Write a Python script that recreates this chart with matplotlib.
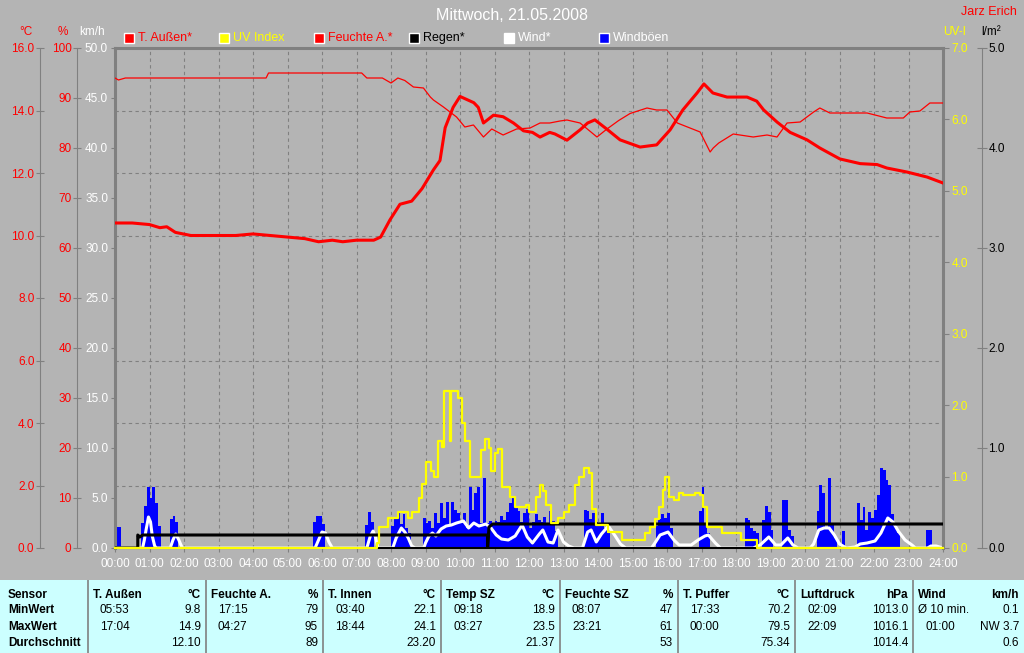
# Tagesgrafik Wetterstation - Mittwoch 21.05.2008
import numpy as np
import matplotlib
matplotlib.use('Agg')
import matplotlib.pyplot as plt
from matplotlib.patches import Rectangle
from matplotlib.ticker import MultipleLocator, FormatStrFormatter

plt.rcParams['font.family'] = ['Liberation Sans', 'DejaVu Sans']

# --- data (time in hours) ---
temp_h = [0.0, 0.5, 1.0, 1.3, 1.5, 1.75, 2.2, 3.0, 3.5, 4.0, 4.5, 5.0, 5.5, 5.9, 6.3, 6.6,
          7.0, 7.5, 7.7, 7.97, 8.26, 8.6, 8.9, 9.23, 9.42, 9.57, 9.8, 10.0, 10.2, 10.4,
          10.53, 10.68, 10.97, 11.25, 11.55, 11.84, 12.1, 12.32, 12.6, 12.75, 13.1, 13.48,
          13.7, 13.91, 14.26, 14.64, 15.22, 15.7, 16.09, 16.46, 16.87, 17.07, 17.33, 17.74,
          18.32, 18.6, 18.8, 19.19, 19.57, 20.06, 20.43, 21.01, 21.6, 22.09, 22.37, 22.96,
          23.54, 24.0]
temp_c = [10.4, 10.4, 10.35, 10.25, 10.28, 10.1, 10.0, 10.0, 10.0, 10.05, 10.0, 9.95, 9.9,
          9.8, 9.85, 9.8, 9.85, 9.85, 9.95, 10.5, 11.0, 11.1, 11.5, 12.1, 12.4, 13.45, 14.1,
          14.45, 14.35, 14.25, 14.1, 13.6, 13.85, 13.8, 13.6, 13.35, 13.3, 13.15, 13.3, 13.25,
          13.05, 13.38, 13.6, 13.7, 13.4, 13.06, 12.83, 12.9, 13.38, 14.02, 14.56, 14.85,
          14.56, 14.43, 14.43, 14.3, 14.02, 13.63, 13.3, 13.06, 12.8, 12.45, 12.3, 12.27,
          12.16, 12.03, 11.87, 11.68]

hum_h = [0.0, 0.1, 0.3, 4.38, 4.45, 7.15, 7.3, 7.75, 8.0, 8.2, 8.4, 8.65, 8.94, 9.14, 9.23,
         9.52, 9.71, 9.9, 10.14, 10.39, 10.68, 10.92, 11.25, 11.64, 12.03, 12.32, 12.6, 12.9,
         13.1, 13.48, 13.97, 14.26, 14.6, 14.93, 15.42, 15.7, 16.0, 16.3, 16.96, 17.25, 17.34,
         17.5, 17.92, 18.5, 18.9, 19.19, 19.48, 19.86, 20.25, 20.43, 20.72, 21.8, 22.37,
         22.85, 23.04, 23.33, 23.62, 24.0]
hum_pct = [94, 93.6, 94, 94, 95, 95, 94, 94, 93, 94, 93.5, 92.2, 92, 90.2, 89.6, 88.2, 87.2,
           86.2, 84.2, 84.6, 82.2, 83.8, 82.6, 83.8, 84, 85, 85, 85.4, 85.6, 85, 82.2, 83.8,
           85.5, 86.9, 88, 87.6, 87.6, 85, 83.2, 79.2, 80, 81, 82.8, 82.2, 82.6, 82.2, 85,
           85.2, 87.2, 88, 87, 87, 86, 86, 87.2, 87.4, 89, 89]

uv_h = [0.0, 7.59, 7.65, 7.9, 8.2, 8.5, 8.6, 8.8, 8.9, 9.02, 9.15, 9.25, 9.35, 9.48, 9.55,
        9.7, 9.74, 9.95, 10.05, 10.15, 10.28, 10.62, 10.72, 10.85, 10.9, 11.0, 11.1, 11.22,
        11.45, 11.6, 11.9, 12.0, 12.2, 12.32, 12.42, 12.5, 12.65, 12.85, 13.0, 13.17, 13.33,
        13.45, 13.6, 13.75, 13.82, 13.95, 14.3, 14.7, 15.35, 15.5, 15.65, 15.78, 15.87, 15.95,
        16.05, 16.2, 16.35, 16.45, 16.8, 16.95, 17.05, 17.15, 17.6, 18.15, 18.6, 24.0]
uv_idx = [0.0, 0.07, 0.3, 0.42, 0.5, 0.42, 0.5, 0.7, 0.9, 1.2, 1.08, 1.0, 1.5, 1.42, 2.2,
          1.5, 2.2, 2.1, 1.75, 1.5, 1.0, 1.37, 1.52, 1.4, 1.08, 1.33, 1.38, 0.86, 0.72, 0.58,
          0.6, 0.5, 0.72, 0.88, 0.8, 0.6, 0.35, 0.42, 0.5, 0.6, 0.88, 1.0, 1.12, 1.05, 0.55,
          0.32, 0.22, 0.11, 0.21, 0.3, 0.4, 0.58, 0.81, 1.0, 0.72, 0.67, 0.77, 0.74, 0.77,
          0.74, 0.58, 0.3, 0.21, 0.11, 0.0, 0.0]

rain_h = [0.0, 0.66, 0.66, 0.72, 0.8, 10.8, 10.8, 10.84, 10.95, 24.0]
rain_l = [0.0, 0.0, 0.13, 0.11, 0.13, 0.13, 0.0, 0.21, 0.24, 0.24]

wind_h = [0.0, 0.8, 0.85, 0.9, 0.97, 1.03, 1.08, 1.15, 1.2, 1.6, 1.68, 1.76, 1.85, 1.95,
          5.8, 5.9, 6.0, 6.1, 6.2, 6.3, 7.3, 7.4, 7.48, 7.55, 7.62, 8.05, 8.15, 8.3, 8.4, 8.5,
          8.6, 8.7, 8.95, 9.0, 9.1, 9.2, 9.3, 9.45, 9.6, 9.75, 9.9, 10.1, 10.25, 10.4, 10.55,
          10.75, 10.9, 11.05, 11.2, 11.4, 11.6, 11.8, 11.95, 12.1, 12.3, 12.4, 12.55, 12.7,
          12.84, 13.0, 13.15, 13.3, 13.55, 13.7, 13.8, 13.95, 14.1, 14.3, 14.5, 14.65, 14.8,
          15.55, 15.65, 15.8, 16.03, 16.2, 16.35, 16.7, 16.9, 17.1, 17.2, 17.4, 17.55, 18.5,
          18.7, 18.95, 19.15, 19.3, 19.5, 19.65, 19.8, 20.15, 20.25, 20.4, 20.55, 20.7, 20.85,
          21.0, 21.2, 21.45, 21.6, 21.8, 22.03, 22.2, 22.4, 22.55, 22.7, 22.9, 23.1, 23.2,
          23.55, 23.65, 23.8, 24.0]
wind_kmh = [0, 0, 0.8, 1.8, 3.1, 2.6, 1.2, 0.2, 0, 0, 0.8, 1.4, 0.8, 0,
            0, 0.8, 1.6, 1.5, 0.6, 0, 0, 1.2, 1.7, 1.1, 0, 0, 1.0, 2.0, 1.6, 1.0,
            0.2, 0, 0, 0.5, 1.2, 1.5, 1.2, 1.9, 2.2, 2.3, 2.5, 2.7, 2.0, 2.5, 2.2,
            2.4, 2.0, 1.3, 0.9, 0.8, 1.2, 2.3, 1.1, 0.5, 1.4, 1.8, 0.6, 0.5,
            1.8, 0.6, 0.2, 0, 0, 1.6, 1.8, 0.6, 1.4, 2.2, 1.2, 0.4, 0,
            0, 0.5, 1.3, 1.6, 0.8, 0.3, 0.3, 0.8, 1.2, 1.3, 0.5, 0, 0,
            0.3, 1.1, 0.3, 0.3, 1.0, 0.3, 0, 0, 0.4, 1.8, 2.0, 2.0, 1.3,
            0.4, 0, 0.1, 0.4, 0.5, 0.7, 1.5, 3.0, 2.6, 1.7, 0.8, 0.3, 0,
            0, 0.2, 0.2, 0]

# gusts in 5 minute bins (minute of day -> km/h)
gust_min = [0, 5,
            45, 50, 55, 60, 65, 70, 75,
            95, 100, 105,
            345, 350, 355, 360,
            435, 440, 445,
            480, 485, 490, 495, 500, 505, 510,
            535, 540, 545, 550, 555, 560, 565, 570, 575, 580, 585, 590, 595,
            600, 605, 610, 615, 620, 625, 630, 635, 640, 645, 650, 655,
            660, 665, 670, 675, 680, 685, 690, 695, 700, 705, 710, 715,
            720, 725, 730, 735, 740, 745, 750, 755, 760, 765,
            815, 820, 825, 830, 835,
            840, 845, 850, 855,
            940, 945, 950, 955,
            960, 965,
            1015, 1020, 1025, 1030,
            1095, 1100, 1105, 1110, 1115, 1125, 1130, 1135, 1140,
            1160, 1165, 1170, 1175,
            1220, 1225, 1230, 1235, 1240, 1245, 1250, 1265,
            1290, 1295, 1300, 1305, 1310, 1315, 1320, 1325, 1330, 1335, 1340, 1345, 1350, 1355, 1360,
            1410, 1415]
gust_kmh = [2.1, 2.1,
            2.5, 4.2, 6.1, 5.0, 6.1, 4.5, 2.2,
            2.9, 3.2, 2.6,
            2.6, 3.2, 3.2, 2.4,
            2.3, 3.6, 2.6,
            2.2, 3.0, 3.5, 2.4, 3.4, 2.0, 1.5,
            3.0, 2.5, 2.7, 2.0, 3.5, 2.5, 4.5, 3.0, 4.6, 2.2, 4.6, 3.8, 3.5,
            2.5, 3.5, 2.0, 6.1, 3.8, 5.5, 6.1, 2.5, 7.0, 2.5, 2.7, 2.5,
            2.7, 2.6, 3.2, 2.8, 3.6, 4.5, 5.1, 4.1, 3.7, 2.6, 3.5, 3.9,
            2.0, 2.6, 3.4, 2.8, 2.6, 3.1, 2.3, 3.7, 2.7, 1.7,
            3.8, 3.7, 2.9, 3.5, 2.6,
            2.5, 3.5, 2.0, 1.5,
            2.2, 2.9, 3.4, 3.0,
            3.5, 2.0,
            3.7, 6.1, 2.3, 1.5,
            3.0, 2.8, 2.0, 1.7, 1.5, 2.8, 4.2, 3.6, 1.8,
            4.8, 4.8, 1.8, 1.2,
            3.7, 6.3, 5.5, 2.0, 7.0, 2.3, 1.0, 1.7,
            4.5, 2.8, 4.1, 1.8, 3.6, 3.0, 3.8, 5.3, 8.0, 7.8, 6.8, 6.3, 3.4, 2.4, 1.5,
            1.8, 1.8]

legend_labels = ['T. Außen*', 'UV Index', 'Feuchte A.*', 'Regen*', 'Wind*', 'Windböen']
legend_fill = ['#ff0000', '#ffff00', '#ff0000', '#000000', '#ffffff', '#0000ff']
legend_text = ['#ff0000', '#ffff00', '#ff0000', '#000000', '#ffffff', '#ffffff']

# summary table
row_labels = ['Sensor', 'MinWert', 'MaxWert', 'Durchschnitt']
sensors = ['T. Außen', 'Feuchte A.', 'T. Innen', 'Temp SZ', 'Feuchte SZ', 'T. Puffer', 'Luftdruck', 'Wind']
units = ['°C', '%', '°C', '°C', '%', '°C', 'hPa', 'km/h']
min_time = ['05:53', '17:15', '03:40', '09:18', '08:07', '17:33', '02:09', 'Ø 10 min.']
min_val = ['9.8', '79', '22.1', '18.9', '47', '70.2', '1013.0', '0.1']
max_time = ['17:04', '04:27', '18:44', '03:27', '23:21', '00:00', '22:09', '01:00']
max_val = ['14.9', '95', '24.1', '23.5', '61', '79.5', '1016.1', 'NW 3.7']
avg_val = ['12.10', '89', '23.20', '21.37', '53', '75.34', '1014.4', '0.6']

# --- layout ---
W, H = 1024, 653
BG = '#b4b4b4'
FRAME = '#808080'
L, R, T, B = 115, 943, 48, 548


def fx(px):
    return px / W


def fy(py):
    return 1 - py / H


def ax_off(px):
    return (px - L) / (R - L)


fig = plt.figure(figsize=(W / 100, H / 100), dpi=100, facecolor=BG)
ax = fig.add_axes([fx(L), fy(B), (R - L) / W, (B - T) / H], facecolor=BG)
ax.set_xlim(0, 24)
ax.set_ylim(0, 50)
ax.set_axisbelow(True)

# hours on x
ax.set_xticks(range(25))
ax.set_xticklabels([f'{h:02d}:00' for h in range(25)])
ax.tick_params(axis='x', colors=FRAME, labelcolor='white', labelsize=8.5,
               direction='out', length=3, width=0.8, pad=4)
ax.grid(axis='x', which='major', color=FRAME, linestyle=(0, (3, 3)), linewidth=0.8)

# km/h on the plot's left frame, grid follows the °C scale
ax.set_yticks(np.arange(0, 51, 5))
ax.yaxis.set_major_formatter(FormatStrFormatter('%.1f'))
ax.yaxis.set_minor_locator(MultipleLocator(50 / 8))
ax.grid(axis='y', which='minor', color=FRAME, linestyle=(0, (3, 3)), linewidth=0.8)
ax.tick_params(axis='y', which='major', colors=FRAME, labelcolor='white', labelsize=8.5,
               direction='out', length=3, width=0.8, pad=2)
ax.tick_params(axis='y', which='minor', length=0)
for s in ['left', 'top', 'right']:
    ax.spines[s].set_color(FRAME)
    ax.spines[s].set_linewidth(2.2)
ax.spines['bottom'].set_color('black')
ax.spines['bottom'].set_linewidth(1.5)

# gusts + wind
ax.bar(np.array(gust_min) / 60, gust_kmh, width=5 / 60, align='edge',
       color='#0000ff', linewidth=0, zorder=1)
ax.plot(wind_h, wind_kmh, color='white', linewidth=2.2, zorder=2)


def twin(ymax, side, pos=None):
    t = ax.twinx()
    t.set_ylim(0, ymax)
    for s in t.spines.values():
        s.set_visible(False)
    t.yaxis.set_ticks_position(side)
    t.yaxis.set_label_position(side)
    if pos is not None:
        t.spines[side].set_visible(True)
        t.spines[side].set_position(('axes', pos))
        t.spines[side].set_color(FRAME)
        t.spines[side].set_linewidth(0.8)
    return t


# rain l/m²
ax_r = twin(5, 'right', ax_off(982))
ax_r.set_yticks(np.arange(0, 6, 1))
ax_r.yaxis.set_major_formatter(FormatStrFormatter('%.1f'))
ax_r.tick_params(axis='y', colors=FRAME, labelcolor='black', labelsize=8.5,
                 direction='inout', length=7, width=0.8, pad=1)
ax_r.plot(rain_h, rain_l, color='black', linewidth=2.2)

# UV index
ax_u = twin(7, 'right')
ax_u.set_yticks(np.arange(0, 8, 1))
ax_u.yaxis.set_major_formatter(FormatStrFormatter('%.1f'))
ax_u.tick_params(axis='y', colors=FRAME, labelcolor='#ffff00', labelsize=8.5,
                 direction='out', length=4, width=0.8, pad=2)
ax_u.step(uv_h, uv_idx, where='post', color='#ffff00', linewidth=1.6, clip_on=False)

# humidity %
ax_h = twin(100, 'left', ax_off(77))
ax_h.set_yticks(np.arange(0, 101, 10))
ax_h.yaxis.set_major_formatter(FormatStrFormatter('%d'))
ax_h.tick_params(axis='y', colors=FRAME, labelcolor='#ff0000', labelsize=8.5,
                 direction='inout', length=6, width=0.8, pad=1)
ax_h.plot(hum_h, hum_pct, color='#ff0000', linewidth=0.9)

# outside temperature °C
ax_t = twin(16, 'left', ax_off(40))
ax_t.set_yticks(np.arange(0, 17, 2))
ax_t.yaxis.set_major_formatter(FormatStrFormatter('%.1f'))
ax_t.tick_params(axis='y', colors=FRAME, labelcolor='#ff0000', labelsize=8.5,
                 direction='inout', length=6, width=0.8, pad=1)
ax_t.plot(temp_h, temp_c, color='#ff0000', linewidth=2.2)

# titles and unit labels
fig.text(fx(512), fy(15), 'Mittwoch, 21.05.2008', color='white', fontsize=11.5,
         ha='center', va='center')
fig.text(fx(1017), fy(12), 'Jarz Erich', color='#ff0000', fontsize=9, ha='right', va='center')
for txt, xc, col in [('°C', 26, '#ff0000'), ('%', 63, '#ff0000'), ('km/h', 92, 'white'),
                     ('UV-I', 955, '#ffff00'), ('l/m²', 991, 'black')]:
    fig.text(fx(xc), fy(32), txt, color=col, fontsize=8.5, ha='center', va='center')

# legend row
for i, (lab, fc, tc) in enumerate(zip(legend_labels, legend_fill, legend_text)):
    x0 = 124 + 95 * i
    fig.patches.append(Rectangle((fx(x0), fy(43)), 10 / W, 10 / H, transform=fig.transFigure,
                                 facecolor=fc, edgecolor='white', linewidth=1))
    fig.text(fx(x0 + 14), fy(38), lab, color=tc, fontsize=9, ha='left', va='center')

# summary table
ax_tab = fig.add_axes([0, 0, 1, 73 / H])
ax_tab.set_xlim(0, W)
ax_tab.set_ylim(653, 580)
ax_tab.axis('off')
ax_tab.add_patch(Rectangle((0, 580), W, 73, facecolor='#ccffff', edgecolor='none'))
edges = [88, 206, 323, 441, 560, 678, 795, 913, W]
ax_tab.vlines(edges[:-1], 580, 653, color=FRAME, linewidth=1.2)
rows_y = [595, 610, 627, 643]
fs = 8.5
for lab, yy in zip(row_labels, rows_y):
    ax_tab.text(8, yy, lab, fontsize=fs, fontweight='bold', va='center', ha='left')
for i in range(len(sensors)):
    xl, xr = edges[i], edges[i + 1]
    ax_tab.text(xl + 5, rows_y[0], sensors[i], fontsize=fs, fontweight='bold', va='center')
    ax_tab.text(xr - 5, rows_y[0], units[i], fontsize=fs, fontweight='bold', va='center', ha='right')
    tx = xl + 5 if min_time[i].startswith('Ø') else xl + 12
    ax_tab.text(tx, rows_y[1], min_time[i], fontsize=fs, va='center')
    ax_tab.text(xr - 5, rows_y[1], min_val[i], fontsize=fs, va='center', ha='right')
    ax_tab.text(xl + 12, rows_y[2], max_time[i], fontsize=fs, va='center')
    ax_tab.text(xr - 5, rows_y[2], max_val[i], fontsize=fs, va='center', ha='right')
    ax_tab.text(xr - 5, rows_y[3], avg_val[i], fontsize=fs, va='center', ha='right')

fig.savefig('out.png', dpi=100, facecolor=BG)
